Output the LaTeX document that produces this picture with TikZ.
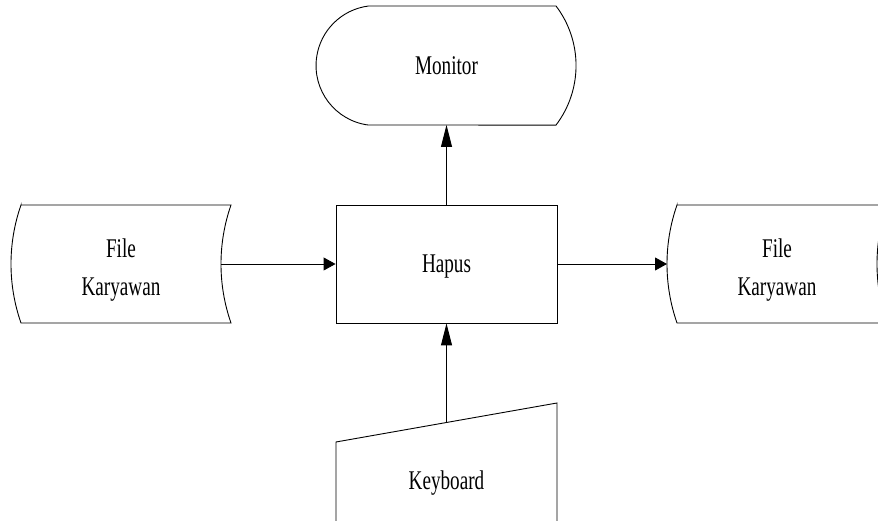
\documentclass[tikz,border=0pt]{standalone}
\usepackage{fontspec}
\setmainfont{Liberation Serif}[FakeStretch=0.71]
\usetikzlibrary{arrows.meta}
\begin{document}
\begin{tikzpicture}[x=1pt,y=1pt,
  shapeline/.style={draw=black,line width=0.9pt},
  lbl/.style={font=\fontsize{27}{38}\selectfont, inner sep=0pt, align=center},
  varr/.style={line width=0.9pt,-{Triangle[length=22pt,width=11pt]}},
  harr/.style={line width=0.9pt,-{Triangle[length=12pt,width=13pt]}}]
\useasboundingbox (0,0) rectangle (878,521);
\clip (0,0) rectangle (878,521);

% Monitor (display)
\draw[shapeline] (368,515) -- (556,515)
  arc[start angle=37.2,end angle=-37.2,radius=98.5] -- (368,396)
  arc[start angle=262.3,end angle=97.7,radius=60] -- cycle;
\node[lbl, anchor=base] (monitor) at (446.5,446) {Monitor};
\coordinate (monB) at (446.5,396);

% Left stored data
\draw[shapeline] (21,316) -- (231,316)
  arc[start angle=160.75,end angle=199.25,radius=179] -- (21,198)
  arc[start angle=199.25,end angle=160.75,radius=179] -- cycle;
\coordinate (lfE) at (221,257);
\node[lbl] (lftext) at (121,251) {File\\Karyawan};

% Right stored data
\draw[shapeline] (677,316) -- (887,316)
  arc[start angle=160.75,end angle=199.25,radius=179] -- (677,198)
  arc[start angle=199.25,end angle=160.75,radius=179] -- cycle;
\coordinate (rfW) at (667,257);
\node[lbl] (rftext) at (777,251) {File\\Karyawan};

% Process
\node[shapeline, minimum width=221pt, minimum height=118pt, inner sep=0pt,
  font=\fontsize{27}{38}\selectfont, text height=18pt, text depth=0pt] (hapus) at (446.5,257) {Hapus};

% Keyboard (manual input)
\draw[shapeline] (336,-5) -- (336,79) -- (557,118) -- (557,-5);
\coordinate (kbT) at (446.5,98.5);
\node[lbl, anchor=base] (kbtext) at (446.5,31) {Keyboard};

% Connectors
\draw[harr] (lfE) -- (hapus.west);
\draw[harr] (hapus.east) -- (rfW);
\draw[varr] (hapus.north) -- (monB);
\draw[varr] (kbT) -- (hapus.south);
\end{tikzpicture}
\end{document}
